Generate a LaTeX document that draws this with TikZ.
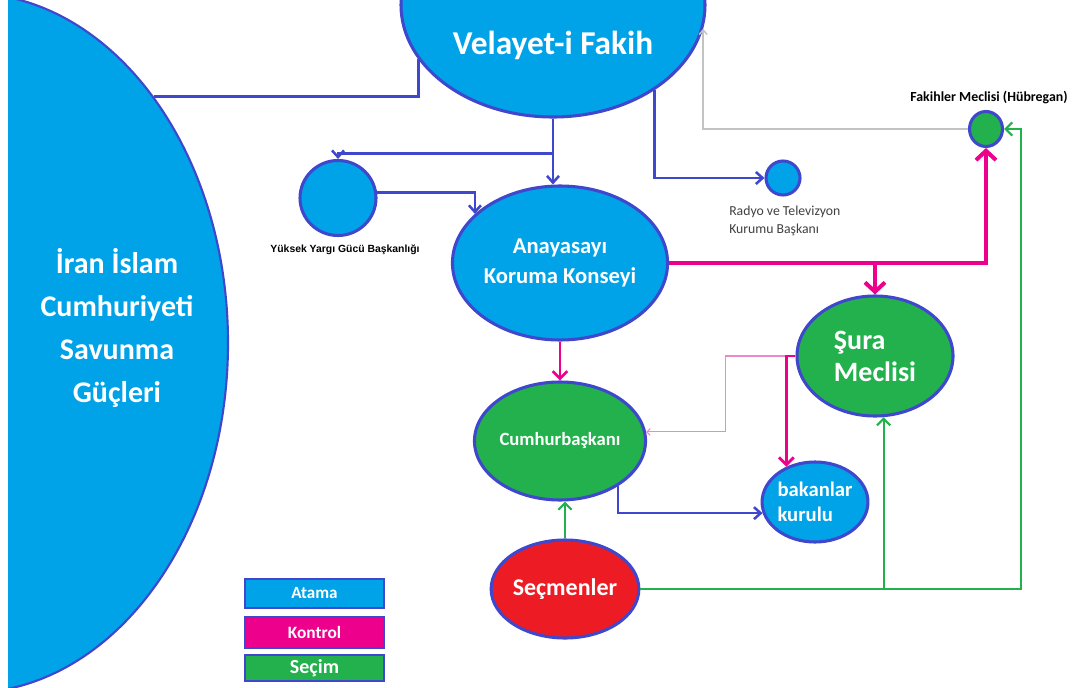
\documentclass[tikz,border=0pt]{standalone}
\usepackage{fontspec}
\setmainfont{Carlito}
\newfontfamily\arialf{Liberation Sans}
\usetikzlibrary{shapes.geometric,arrows.meta}
\definecolor{fillblue}{HTML}{00A2E8}
\definecolor{bord}{HTML}{3F48CC}
\definecolor{fillgreen}{HTML}{22B14C}
\definecolor{fillred}{HTML}{ED1C24}
\definecolor{kpink}{HTML}{EC008C}
\definecolor{lpink}{HTML}{EE88CC}
\definecolor{lgray}{HTML}{C3C3C3}
\definecolor{txtgray}{HTML}{404040}
\begin{document}
\begin{tikzpicture}[x=0.75pt,y=-0.75pt,
  sz/.style 2 args={minimum width={#1*0.75pt},minimum height={#2*0.75pt}},
  shp/.style={ellipse,draw=bord,line width=2.3pt,inner sep=0pt,text=white,font=\bfseries},
  bshp/.style={shp,fill=fillblue},
  gshp/.style={shp,fill=fillgreen},
  rshp/.style={shp,fill=fillred},
  txt/.style={inner sep=0pt},
  legbox/.style={rectangle,draw=bord,line width=2.2pt,inner sep=0pt,text=white},
  atama/.style={draw=bord,line width=1.9pt,-{Straight Barb[length=5pt,width=9pt]}},
  atamaline/.style={draw=bord,line width=1.9pt},
  kontrol/.style={draw=kpink,line width=3pt,-{Straight Barb[length=7pt,width=15pt]}},
  kontrolm/.style={draw=kpink,line width=2.1pt,-{Straight Barb[length=5.5pt,width=11pt]}},
  kontrolthin/.style={draw=lpink,line width=0.8pt,-{Straight Barb[length=2.5pt,width=5pt]}},
  grayarr/.style={draw=lgray,line width=1.1pt,-{Straight Barb[length=3.5pt,width=6pt]}},
  secim/.style={draw=fillgreen,line width=1.6pt,-{Straight Barb[length=5pt,width=10pt]}}
]
\useasboundingbox (0,0) rectangle (1084,688);
\fill[white] (0,0) rectangle (1084,688);

% big left ellipse
\begin{scope}
\clip (8,0) rectangle (1084,688);
\node[bshp,line width=1.6pt,sz={520}{700}] (iran) at (-32,343) {};
\end{scope}
\node[txt,align=center,text=white,font=\bfseries\fontsize{22.5}{32.3}\selectfont] (irantxt) at (117,328) {İran İslam\\Cumhuriyeti\\Savunma\\Güçleri};

% Velayet-i Fakih
\node[bshp,sz={304}{224}] (vf) at (553,5) {};
\node[txt,text=white,font=\bfseries\fontsize{25}{30}\selectfont] (vftxt) at (553,45) {Velayet-i Fakih};

% Yuksek Yargi
\node[bshp,sz={76}{75}] (yy) at (338,198) {};
\node[txt,font=\arialf\bfseries\fontsize{7.8}{9}\selectfont] (yytxt) at (345,250) {Yüksek Yargı Gücü Başkanlığı};

% Anayasayi
\node[bshp,sz={196}{154},align=center,font=\bfseries\fontsize{17}{23}\selectfont] (akk) at (560,263) {Anayasayı\\Koruma Konseyi};

% Radyo
\node[bshp,sz={34}{34}] (radyo) at (783,178) {};
\node[txt,anchor=west,align=left,text=txtgray,font=\fontsize{10.3}{13.5}\selectfont] (radtxt) at (729,221) {Radyo ve Televizyon\\Kurumu Başkanı};

% Fakihler
\node[gshp,sz={33}{35}] (fak) at (986,129) {};
\node[txt,font=\bfseries\fontsize{10.4}{12}\selectfont] (faktxt) at (989,98) {Fakihler Meclisi (Hübregan)};

% Sura
\node[gshp,sz={156}{120},align=left,font=\bfseries\fontsize{21}{24}\selectfont] (sura) at (875,356) {Şura\\Meclisi};

% Cumhurbaskani
\node[gshp,sz={136}{118},font=\bfseries\fontsize{14}{17}\selectfont] (cb) at (560,441) {Cumhurbaşkanı};

% bakanlar kurulu
\node[bshp,sz={96}{80},align=left,font=\bfseries\fontsize{15.5}{19}\selectfont] (bk) at (815,502) {bakanlar\\kurulu};

% Secmenler
\node[rshp,sz={130}{98},font=\bfseries\fontsize{18}{22}\selectfont] (sec) at (565,589) {Seçmenler};

% legend
\node[legbox,fill=fillblue,sz={139}{29},font=\bfseries\fontsize{12.8}{15}\selectfont] (leg1) at (314.5,593.5) {Atama};
\node[legbox,fill=kpink,sz={139}{31},font=\bfseries\fontsize{13}{15}\selectfont] (leg2) at (314.5,632.5) {Kontrol};
\node[legbox,fill=fillgreen,sz={139}{26},font=\bfseries\fontsize{15}{17}\selectfont] (leg3) at (314.5,668) {Seçim};

\coordinate (gcorner) at (1021,589);

% Atama connectors
\draw[atama] (vf.south) -- (vf.south |- akk.north);
\draw[atama] (vf.south) -- ++(0,35) -| (yy.north);
\draw[atama] (yy.8) -| (akk.150);
\draw[atamaline] (iran.53.3) -| (vf.202.8);
\draw[atama] (vf.320.9) |- (radyo.west);
\draw[atama] (cb.322.6) |- (bk.192.1);
\draw[grayarr] (fak.west) -| (vf.351.6);

% Kontrol connectors
\draw[kontrol] (akk.east) -| (fak.south);
\draw[kontrol] (akk.east -| sura.north) -- (sura.north);
\draw[kontrolm] (akk.south) -- (cb.north);
\draw[kontrolthin] (sura.west) -- ++(-70,0) |- (cb.6.8);
\draw[kontrolm] (sura.west) -| (bk.129.3);

% Secim connectors
\draw[secim] (sec.north) -- (sec.north |- cb.south);
\draw[secim] (sec.east) -- (gcorner) |- (fak.east);
\draw[secim] (sec.east -| sura.278.6) -- (sura.278.6);
\end{tikzpicture}
\end{document}
